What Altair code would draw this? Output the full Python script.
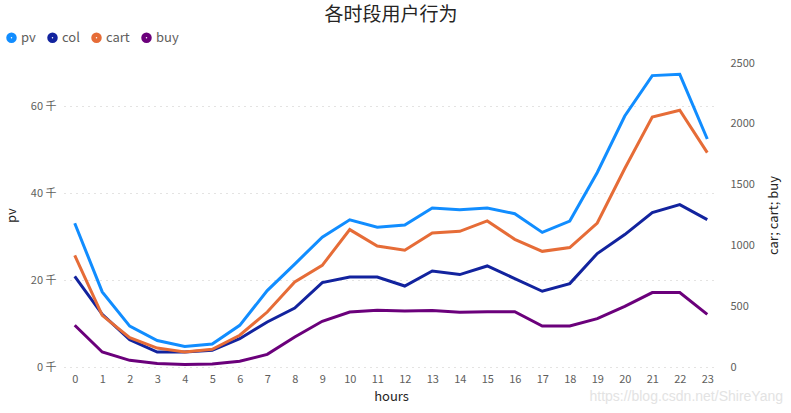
import altair as alt
import pandas as pd

hours = list(range(24))
pv = [33100, 17300, 9400, 6100, 4700, 5300, 9600, 17600, 23700, 29900, 33900, 32200,
      32700, 36600, 36200, 36600, 35300, 31000, 33600, 44800, 57800, 67100, 67400, 52500]
col = [746, 433, 225, 123, 123, 137, 233, 370, 485, 694, 740, 740,
       666, 790, 760, 831, 727, 623, 686, 933, 1089, 1270, 1335, 1212]
cart = [918, 425, 242, 156, 123, 146, 261, 452, 699, 836, 1130, 995,
        960, 1102, 1116, 1201, 1050, 951, 982, 1184, 1632, 2056, 2111, 1763]
buy = [343, 123, 55, 28, 20, 25, 47, 104, 247, 376, 452, 466,
       461, 464, 450, 455, 455, 337, 337, 398, 499, 612, 612, 433]

series_names = ["pv", "col", "cart", "buy"]
series_colors = ["#118DFF", "#12239E", "#E66C37", "#6B007B"]

rows = []
for name, vals in zip(series_names, [pv, col, cart, buy]):
    for h, v in zip(hours, vals):
        rows.append({"hour": h, "series": name, "value": v})
df = pd.DataFrame(rows)

FONT = "Noto Sans CJK SC"
LABEL_COLOR = "#605E5C"
TITLE_COLOR = "#252423"

color = alt.Color(
    "series:N",
    scale=alt.Scale(domain=series_names, range=series_colors),
    sort=series_names,
    legend=alt.Legend(
        title=None, orient="none", direction="horizontal", legendX=-59, legendY=-32,
        symbolType="circle", symbolSize=36, symbolStrokeWidth=4.5, symbolOpacity=1,
        labelFontSize=13, labelColor=LABEL_COLOR, labelFont=FONT, columnPadding=4,
        labelOffset=3,
    ),
)

x = alt.X(
    "hour:O",
    scale=alt.Scale(type="point", padding=0.39),
    axis=alt.Axis(title="hours", labelAngle=0, labelFontSize=11, labelColor=LABEL_COLOR,
                  titleFontSize=13, titleColor=TITLE_COLOR, titleFontWeight="normal",
                  domain=False, ticks=False, labelPadding=6, titlePadding=6,
                  labelFont=FONT, titleFont=FONT),
)

base = alt.Chart(df)

left = base.transform_filter(alt.datum.series == "pv").mark_line(strokeWidth=3).encode(
    x=x,
    y=alt.Y("value:Q", scale=alt.Scale(domain=[0, 70000], nice=False),
            axis=alt.Axis(title="pv", values=[0, 20000, 40000, 60000],
                          labelExpr="datum.value / 1000 + ' 千'",
                          grid=True, gridDash=[1, 5], gridColor="#C8C6C4", gridWidth=1,
                          domain=False, ticks=False, labelFontSize=11, labelColor=LABEL_COLOR,
                          titleFontSize=13, titleColor=TITLE_COLOR, titleFontWeight="normal",
                          labelPadding=8, titlePadding=12, labelFont=FONT, titleFont=FONT)),
    color=color,
)

right = base.transform_filter(alt.datum.series != "pv").mark_line(strokeWidth=3).encode(
    x=x,
    y=alt.Y("value:Q", scale=alt.Scale(domain=[0, 2500], nice=False),
            axis=alt.Axis(title="car; cart; buy", orient="right", format="d",
                          values=[0, 500, 1000, 1500, 2000, 2500],
                          grid=False, domain=False, ticks=False, labelFontSize=11,
                          labelColor=LABEL_COLOR, titleFontSize=13, titleColor=TITLE_COLOR,
                          titleFontWeight="normal", titleAngle=-90, labelPadding=12,
                          titlePadding=26, labelFont=FONT, titleFont=FONT)),
    color=color,
)

watermark = alt.Chart(pd.DataFrame({"t": ["https://blog.csdn.net/ShireYang"]})).mark_text(
    align="right", baseline="middle", fontSize=14, color="#E3E3E3", font="Liberation Sans"
).encode(text="t:N", x=alt.value(719), y=alt.value(334))

chart = alt.layer(left, right, watermark).resolve_scale(y="independent").properties(
    width=654, height=304,
    title=alt.TitleParams("各时段用户行为", fontSize=19, font=FONT, fontWeight="normal",
                          color=TITLE_COLOR, anchor="middle", offset=6),
    autosize=alt.AutoSizeParams(type="none"),
    padding={"left": 64, "top": 63, "right": 73, "bottom": 46},
).configure_view(stroke=None)

chart.save("out.html", embed_options={"renderer": "svg", "actions": False})
